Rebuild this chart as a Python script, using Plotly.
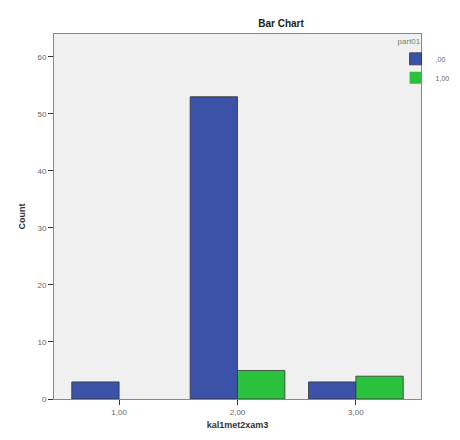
import plotly.graph_objects as go

categories = ["1,00", "2,00", "3,00"]
series_names = [",00", "1,00"]
values_00 = [3, 53, 3]
values_100 = [0, 5, 4]
y_ticks = [0, 10, 20, 30, 40, 50, 60]

colors = ["#3b52a8", "#2ac23d"]

fig = go.Figure()
for name, vals, c in zip(series_names, [values_00, values_100], colors):
    fig.add_trace(go.Bar(
        x=categories, y=vals, name=name,
        marker=dict(color=c, line=dict(color="#333333",
                                       width=[0.8 if v > 0 else 0 for v in vals])),
    ))

fig.update_layout(
    width=452, height=432,
    margin=dict(l=46, r=39, t=26, b=41, autoexpand=False),
    paper_bgcolor="white",
    plot_bgcolor="#f0f0f0",
    barmode="group",
    bargap=0.2, bargroupgap=0,
    font=dict(family="Liberation Sans, Arial", size=8, color="#666666"),
    title=dict(text="<b>Bar Chart</b>", x=0.604, xanchor="center", y=0.965, yanchor="middle",
               font=dict(size=10, color="#222222")),
    legend=dict(
        title=dict(text="part01", font=dict(size=8, color="#6a8a6a")),
        xref="container", yref="container",
        x=0.988, xanchor="right", y=0.94, yanchor="top",
        font=dict(size=7, color="#666666"),
        bgcolor="rgba(0,0,0,0)",
        itemwidth=30, tracegroupgap=0,
    ),
    xaxis=dict(
        range=[-0.55, 2.55],
        showline=True, linecolor="#888888", linewidth=1, mirror=True,
        ticks="outside", ticklen=5, tickcolor="#333333",
        showgrid=False,
        title=dict(text="<b>kal1met2xam3</b>", font=dict(size=9, color="#333333"), standoff=6),
    ),
    yaxis=dict(
        range=[0, 64],
        tickvals=y_ticks,
        showline=True, linecolor="#888888", linewidth=1, mirror=True,
        ticks="outside", ticklen=5, tickcolor="#333333",
        showgrid=False, zeroline=False,
        title=dict(text="<b>Count</b>", font=dict(size=9, color="#333333"), standoff=10),
    ),
)

fig.write_html("out.html")
